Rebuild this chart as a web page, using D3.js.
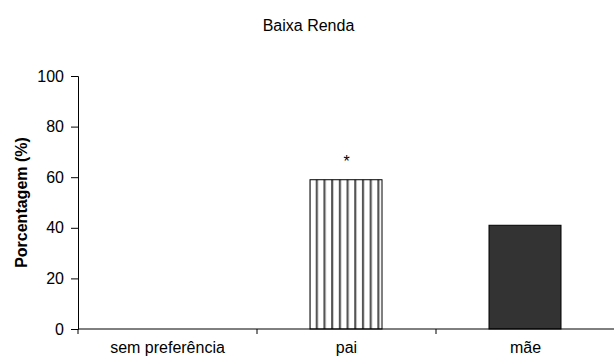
<!DOCTYPE html>
<html><head><meta charset="utf-8">
<script src="https://cdn.jsdelivr.net/npm/d3@7"></script>
<style>body{margin:0;background:#fff}svg{display:block}text{font-family:"Liberation Sans",Arial,sans-serif}</style>
</head><body>
<svg id="c" width="614" height="360"></svg>
<script>
const categories = ["sem preferência", "pai", "mãe"];
const values = [0, 59, 41];
const marks = ["", "*", ""];
const yTicks = [0, 20, 40, 60, 80, 100];
const title = "Baixa Renda";
const yLabel = "Porcentagem (%)";

const svg = d3.select("#c");
const m = {left: 78, right: 0, top: 76, bottom: 31};
const W = 614, H = 360;
const FS = 16;
const x = d3.scaleBand().domain(categories).range([m.left, m.left + 3*179]).paddingInner(0).paddingOuter(0);
const y = d3.scaleLinear().domain([0, 100]).range([H - m.bottom, m.top]);

const defs = svg.append("defs");
const pat = defs.append("pattern").attr("id","stripes").attr("patternUnits","userSpaceOnUse")
  .attr("width", 7.7).attr("height", 10).attr("x", 0);
pat.append("rect").attr("width",7.7).attr("height",10).attr("fill","#fff");
pat.append("rect").attr("x",0).attr("width",2.2).attr("height",10).attr("fill","#555");

const barW = 72;
const fills = ["#fff", "url(#stripes)", "#333333"];
svg.append("g").selectAll("rect").data(categories).join("rect")
  .attr("x", d => x(d) + x.bandwidth()/2 - barW/2 - 0.5)
  .attr("y", (d,i) => y(values[i]))
  .attr("width", barW)
  .attr("height", (d,i) => y(0) - y(values[i]))
  .attr("fill", (d,i) => fills[i])
  .attr("stroke", "#000").attr("stroke-width", 1)
  .attr("display", (d,i) => values[i] > 0 ? null : "none");

svg.append("g").selectAll("text").data(categories).join("text")
  .attr("x", d => x(d) + x.bandwidth()/2)
  .attr("y", (d,i) => y(values[i]) - 13)
  .attr("text-anchor","middle").attr("font-size", FS)
  .text((d,i) => marks[i]);

// y axis
const ya = svg.append("g").attr("transform", `translate(${m.left},0)`)
  .call(d3.axisLeft(y).tickValues(yTicks).tickSize(7).tickPadding(7));
ya.select(".domain").attr("stroke","#000");
ya.selectAll("text").attr("font-size", FS).attr("fill","#000").attr("font-family","Liberation Sans, Arial, sans-serif");

// x axis
const xa = svg.append("g").attr("transform", `translate(0,${y(0)})`);
xa.append("line").attr("x1", m.left).attr("x2", W).attr("stroke","#000");
xa.selectAll("line.t").data(categories).join("line").attr("class","t")
  .attr("x1", d => x(d)).attr("x2", d => x(d)).attr("y1", 0).attr("y2", 5).attr("stroke","#000");
xa.selectAll("text").data(categories).join("text")
  .attr("x", d => x(d) + x.bandwidth()/2).attr("y", 24)
  .attr("text-anchor","middle").attr("font-size", FS).text(d => d);

svg.append("text").attr("x", 308.5).attr("y", 31).attr("text-anchor","middle")
  .attr("font-size", FS).text(title);
svg.append("text").attr("transform", `translate(27,${(y(0)+y(100))/2}) rotate(-90)`)
  .attr("text-anchor","middle").attr("font-size", FS).attr("font-weight","bold").text(yLabel);
</script>
</body></html>
